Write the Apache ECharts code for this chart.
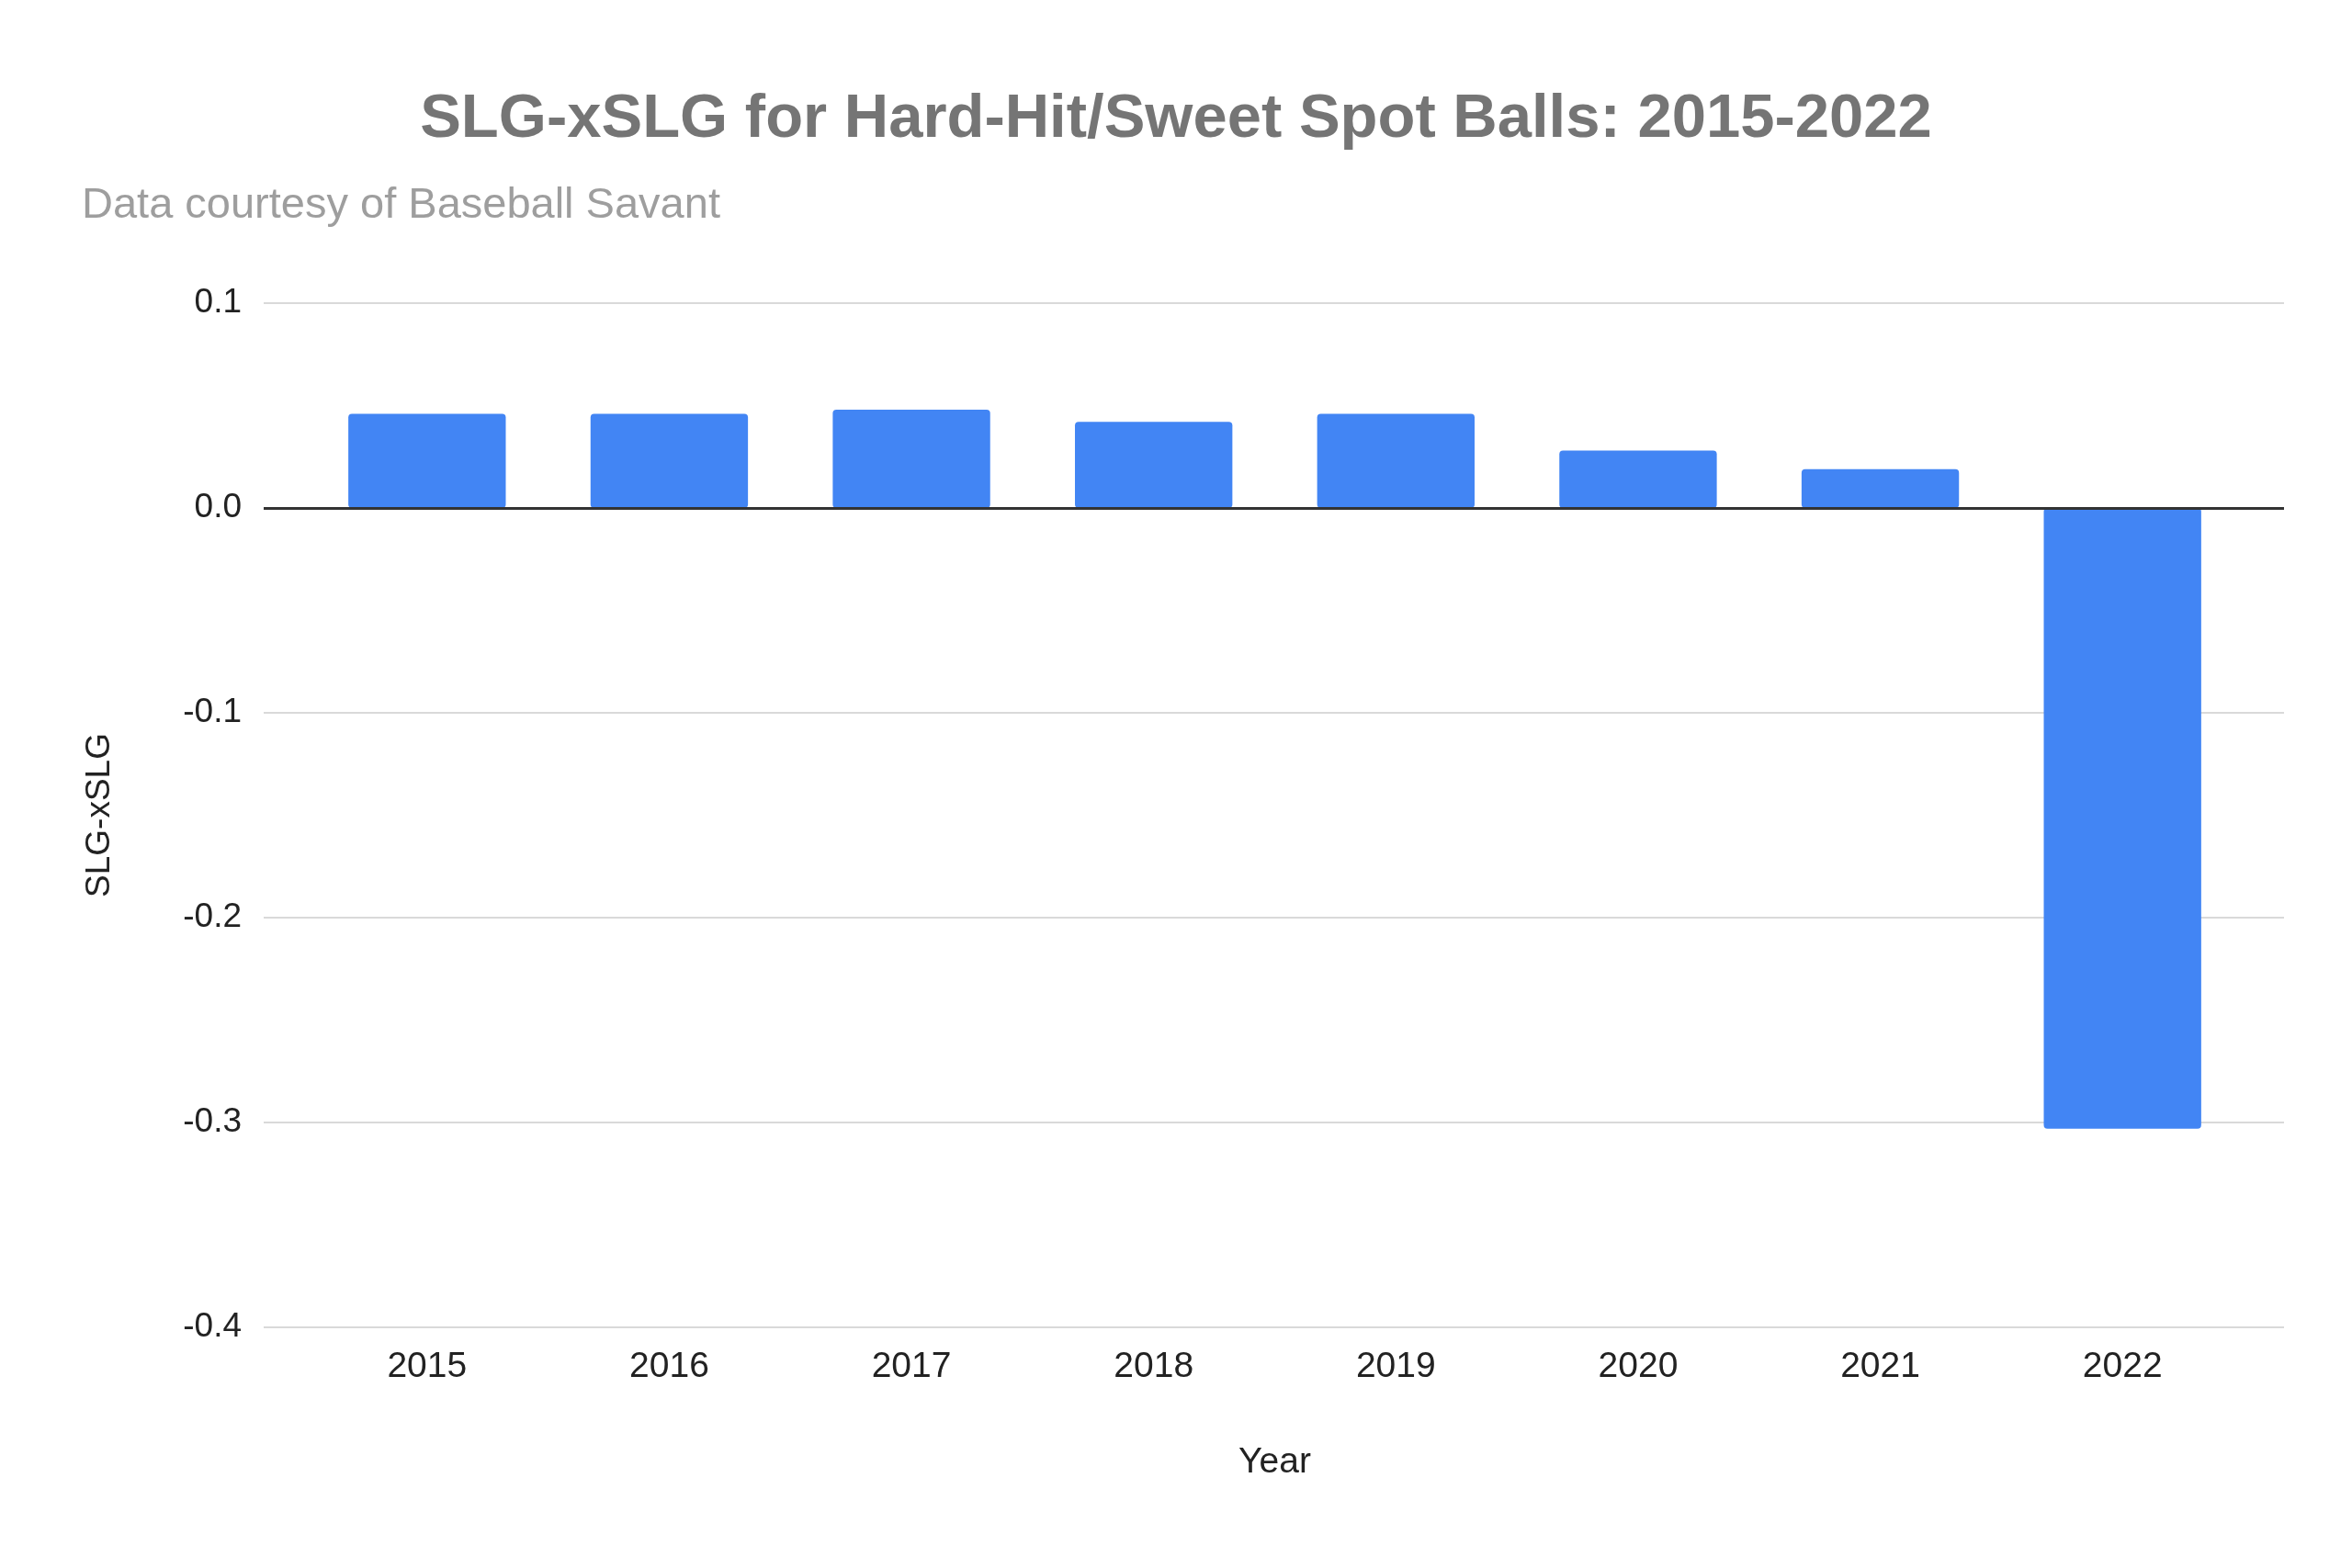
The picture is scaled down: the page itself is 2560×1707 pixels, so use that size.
<!DOCTYPE html>
<html><head><meta charset="utf-8">
<script src="https://cdn.jsdelivr.net/npm/echarts@6/dist/echarts.min.js"></script>
<style>html,body{margin:0;padding:0;background:#fff}#c{width:2560px;height:1707px}</style>
</head><body><div id="c"></div>
<script>
const years = ['2015','2016','2017','2018','2019','2020','2021','2022'];
const slgDiff = [0.046, 0.046, 0.048, 0.042, 0.046, 0.028, 0.019, -0.303];
const yTicks = {min: -0.4, max: 0.1, interval: 0.1};
const chart = echarts.init(document.getElementById('c'));
chart.setOption({
  backgroundColor: '#fff',
  title: [
    {text: 'SLG-xSLG for Hard-Hit/Sweet Spot Balls: 2015-2022', left: 'center', top: 92,
     textStyle: {fontFamily: 'Liberation Sans, Arial', fontSize: 67, fontWeight: 'bold', color: '#757575'}},
    {text: 'Data courtesy of Baseball Savant', left: 84, top: 196,
     textStyle: {fontFamily: 'Liberation Sans, Arial', fontSize: 47, fontWeight: 'normal', color: '#9e9e9e'}}
  ],
  grid: [
    {left: 333, right: 118, top: 330, bottom: 262},
    {left: 287, right: 74, top: 330, bottom: 262}
  ],
  xAxis: [{
    type: 'category', data: years, name: 'Year', nameLocation: 'middle', nameGap: 128,
    nameTextStyle: {fontFamily: 'Liberation Sans, Arial', fontSize: 39, color: '#222'},
    axisLine: {show: false}, axisTick: {show: false},
    axisLabel: {fontFamily: 'Liberation Sans, Arial', fontSize: 39, color: '#222', margin: 24}
  }, {
    type: 'category', gridIndex: 1, data: years, show: false
  }],
  yAxis: [{
    type: 'value', min: yTicks.min, max: yTicks.max, interval: yTicks.interval,
    axisLabel: {show: false}, splitLine: {show: false},
    axisLine: {show: false}, axisTick: {show: false}
  }, {
    type: 'value', gridIndex: 1, min: yTicks.min, max: yTicks.max, interval: yTicks.interval,
    name: 'SLG-xSLG', nameLocation: 'middle', nameGap: 160,
    nameTextStyle: {fontFamily: 'Liberation Sans, Arial', fontSize: 37, color: '#222'},
    axisLabel: {fontFamily: 'Liberation Sans, Arial', fontSize: 37, color: '#222', margin: 24,
      formatter: v => v.toFixed(1)},
    splitLine: {lineStyle: {color: '#d9d9d9', width: 2}},
    axisLine: {show: false}, axisTick: {show: false}
  }],
  series: [{
    type: 'bar', data: slgDiff, barWidth: '65%', z: 3,
    itemStyle: {color: '#4285f4', borderRadius: 4}
  }, {
    type: 'line', xAxisIndex: 1, yAxisIndex: 1, data: [], z: 4,
    markLine: {symbol: 'none', silent: true, label: {show: false},
      lineStyle: {color: '#333', width: 3, type: 'solid'}, data: [{yAxis: 0}]}
  }]
});
</script></body></html>
